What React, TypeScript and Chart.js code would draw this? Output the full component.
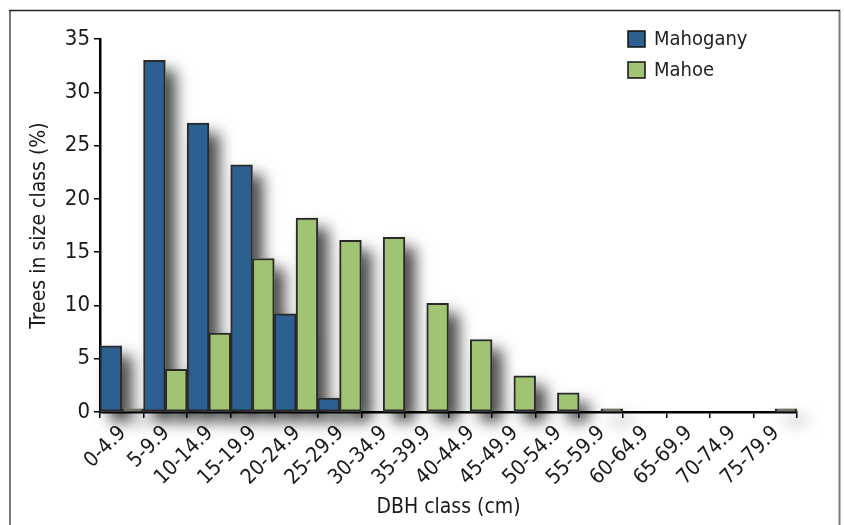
import React, { useEffect, useRef } from "react";
import { Chart, registerables } from "chart.js";

Chart.register(...registerables);

const categories = [
  "0-4.9", "5-9.9", "10-14.9", "15-19.9", "20-24.9", "25-29.9", "30-34.9", "35-39.9",
  "40-44.9", "45-49.9", "50-54.9", "55-59.9", "60-64.9", "65-69.9", "70-74.9", "75-79.9",
];
const mahoganyValues = [6.2, 33.0, 27.1, 23.2, 9.2, 1.3, 0, 0, 0, 0, 0, 0, 0, 0, 0, 0];
const mahoeValues = [0.3, 4.0, 7.4, 14.4, 18.2, 16.1, 16.4, 10.2, 6.8, 3.4, 1.8, 0.3, 0, 0, 0, 0.3];
const seriesNames = ["Mahogany", "Mahoe"];
const yTickStep = 5;
const yMax = 35;

const FONT = "'Liberation Sans Narrow', 'DejaVu Sans Condensed', 'Open Sans', sans-serif";

const framePlugin = {
  id: "frame",
  beforeDraw(chart: any) {
    const ctx = chart.ctx;
    ctx.save();
    ctx.fillStyle = "#fff";
    ctx.fillRect(0, 0, chart.width, chart.height);
    ctx.strokeStyle = "#7a7a7a";
    ctx.lineWidth = 2;
    ctx.beginPath();
    ctx.moveTo(10, 10);
    ctx.lineTo(10, chart.height + 5);
    ctx.moveTo(839.5, 10);
    ctx.lineTo(839.5, chart.height + 5);
    ctx.stroke();
    ctx.strokeStyle = "#222";
    ctx.lineWidth = 1.5;
    ctx.beginPath();
    ctx.moveTo(9, 10.5);
    ctx.lineTo(840, 10.5);
    ctx.stroke();
    ctx.restore();
  },
};

const shadowPlugin = {
  id: "barShadow",
  beforeDatasetsDraw(chart: any) {
    const ctx = chart.ctx;
    ctx.save();
    ctx.shadowColor = "rgba(0,0,0,0.75)";
    ctx.shadowBlur = 15;
    ctx.shadowOffsetX = 10;
    ctx.shadowOffsetY = 10;
    ctx.fillStyle = "#fff";
    chart.getSortedVisibleDatasetMetas().forEach((meta: any) => {
      meta.data.forEach((el: any) => {
        const p = el.getProps(["x", "y", "base", "width"], true);
        const h = Math.abs(p.base - p.y);
        if (h < 0.5) return;
        ctx.fillRect(p.x - p.width / 2, Math.min(p.y, p.base), p.width, h);
      });
    });
    ctx.restore();
  },
};

const legendPlugin = {
  id: "customLegend",
  afterDraw(chart: any) {
    const ctx = chart.ctx;
    ctx.save();
    const x = 628;
    let y = 39;
    chart.data.datasets.forEach((ds: any) => {
      ctx.fillStyle = ds.backgroundColor;
      ctx.fillRect(x, y - 8, 17, 16);
      ctx.strokeStyle = "#111";
      ctx.lineWidth = 1.5;
      ctx.strokeRect(x, y - 8, 17, 16);
      ctx.fillStyle = "#222";
      ctx.font = `20px ${FONT}`;
      ctx.textBaseline = "middle";
      ctx.textAlign = "left";
      ctx.fillText(ds.label, x + 26, y + 1);
      y += 31;
    });
    ctx.restore();
  },
};

export default function App() {
  const ref = useRef<HTMLCanvasElement>(null);
  useEffect(() => {
    if (!ref.current) return;
    const chart = new Chart(ref.current, {
      type: "bar",
      data: {
        labels: categories,
        datasets: [
          {
            label: seriesNames[0],
            data: mahoganyValues,
            backgroundColor: "#2b6090",
            borderColor: "#2a2a2a",
            borderWidth: 2,
            borderSkipped: false,
          },
          {
            label: seriesNames[1],
            data: mahoeValues,
            backgroundColor: "#a0c473",
            borderColor: "#2a2a2a",
            borderWidth: 2,
            borderSkipped: false,
          },
        ],
      },
      options: {
        responsive: false,
        animation: false,
        devicePixelRatio: 1,
        datasets: { bar: { categoryPercentage: 1, barPercentage: 1 } },
        layout: { padding: { left: 0, top: 39, right: 47, bottom: 0 } },
        plugins: {
          legend: { display: false },
          tooltip: { enabled: false },
        },
        scales: {
          x: {
            offset: true,
            afterFit: (s: any) => {
              s.height = 113;
            },
            grid: {
              offset: true,
              drawOnChartArea: false,
              drawTicks: true,
              tickLength: 6,
              color: "#000",
              lineWidth: 1.5,
            },
            border: { color: "#000", width: 2.5 },
            ticks: {
              minRotation: 45,
              maxRotation: 45,
              autoSkip: false,
              color: "#1a1a1a",
              padding: 3,
              labelOffset: 1,
              font: { family: FONT, size: 21 },
            },
            title: {
              display: true,
              text: "DBH class (cm)",
              color: "#1a1a1a",
              font: { family: FONT, size: 21 },
              padding: { top: 0, bottom: 5 },
            },
          },
          y: {
            min: 0,
            max: yMax,
            afterFit: (s: any) => {
              s.width = 100;
            },
            grid: {
              drawOnChartArea: false,
              drawTicks: true,
              tickLength: 6,
              color: "#000",
              lineWidth: 1.5,
            },
            border: { color: "#000", width: 2.5 },
            ticks: {
              stepSize: yTickStep,
              color: "#1a1a1a",
              padding: 4,
              font: { family: FONT, size: 22 },
            },
            title: {
              display: true,
              text: "Trees in size class (%)",
              color: "#1a1a1a",
              font: { family: FONT, size: 21 },
              padding: { top: 27, bottom: 0 },
            },
          },
        },
      },
      plugins: [framePlugin, shadowPlugin, legendPlugin],
    });
    return () => chart.destroy();
  }, []);
  return (
    <div style={{ position: "fixed", left: 0, top: 0, width: 844, height: 525, overflow: "hidden" }}>
      <canvas ref={ref} width={844} height={525} style={{ width: 844, height: 525, display: "block" }} />
    </div>
  );
}
